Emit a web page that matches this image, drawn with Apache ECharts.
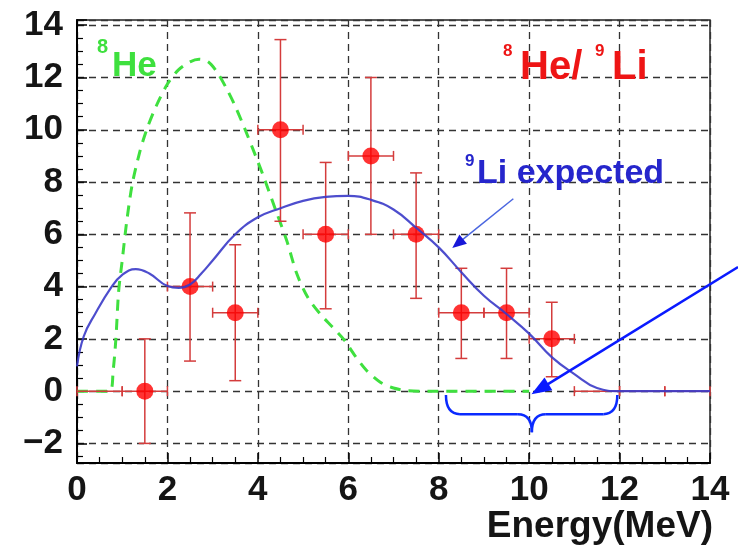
<!DOCTYPE html>
<html>
<head>
<meta charset="utf-8">
<script src="https://cdn.jsdelivr.net/npm/echarts@6/dist/echarts.min.js"></script>
<style>
  html, body { margin: 0; padding: 0; background: #ffffff; }
  #chart { width: 738px; height: 550px; }
</style>
</head>
<body>
<div id="chart"></div>
<script>
// Measured candidates per 1 MeV energy bin
const binCenters = [1.5, 2.5, 3.5, 4.5, 5.5, 6.5, 7.5, 8.5, 9.5, 10.5];
const counts     = [0, 4, 3, 10, 6, 9, 6, 3, 3, 2];
const errLow     = [2.0, 2.85, 2.6, 3.5, 2.85, 3.0, 2.45, 1.75, 1.75, 1.45];
const errHigh    = [2.0, 2.82, 2.6, 3.45, 2.75, 3.0, 2.35, 1.7, 1.7, 1.4];
const binHalfWidth = 0.5;
// Empty bins: only the horizontal bin-width bar at zero is drawn
const emptyBinCenters = [0.5, 11.5, 12.5, 13.5];

// Expected 9Li spectrum shape
const liEnergy = [0, 0.15, 0.4, 0.75, 1.0, 1.3, 1.6, 2.0, 2.25, 2.5, 2.75, 3.0, 3.5, 4.0, 4.5, 5.0, 5.5, 6.0,
                  6.5, 7.0, 7.5, 8.0, 8.5, 9.0, 9.5, 10.0, 10.5, 11.0, 11.5, 12.0, 13.0, 14.0];
const liValue  = [0.95, 2.1, 2.95, 3.95, 4.45, 4.67, 4.5, 4.02, 3.95, 4.08, 4.5, 5.0, 6.0, 6.65, 7.0, 7.28, 7.43, 7.47,
                  7.32, 6.95, 6.25, 5.5, 4.55, 3.65, 2.95, 2.2, 1.3, 0.65, 0.12, 0, 0, 0];

// 8He spectrum shape
const heEnergy = [0, 0.72, 0.8, 0.86, 0.92, 1.0, 1.1, 1.22, 1.38, 1.54, 1.75, 2.0, 2.25, 2.5, 2.7,
                  2.9, 3.1, 3.3, 3.5, 3.72, 3.95, 4.15, 4.4, 4.64, 4.86, 5.1, 5.38, 5.65, 5.9,
                  6.15, 6.4, 6.7, 7.0, 7.3, 7.6, 10.0];
const heValue  = [0, 0, 0.8, 2.0, 3.8, 5.0, 6.5, 7.9, 9.1, 10.0, 10.9, 11.75, 12.3, 12.6, 12.7,
                  12.6, 12.2, 11.6, 10.9, 10.0, 9.0, 8.1, 6.9, 5.75, 4.5, 3.6, 2.95, 2.45, 1.98,
                  1.35, 0.8, 0.35, 0.12, 0.02, 0, 0];

// Axis tick labels
const xTickLabels = [0, 2, 4, 6, 8, 10, 12, 14];
const yTickLabels = [-2, 0, 2, 4, 6, 8, 10, 12, 14];

const FONT = '"Liberation Sans", Arial, sans-serif';
const chart = echarts.init(document.getElementById('chart'), null, { renderer: 'canvas' });

const errRows = binCenters.map((x, i) => [x, counts[i], errLow[i], errHigh[i], binHalfWidth]);
const emptyRows = emptyBinCenters.map(x => [x, 0, 0, 0, binHalfWidth]);

function renderErrorBar(params, api) {
  const x = api.value(0), y = api.value(1);
  const lo = api.value(2), hi = api.value(3), hw = api.value(4);
  const st = { stroke: '#d43c3c', lineWidth: 1.5 };
  const c = api.coord([x, y]);
  const l = api.coord([x - hw, y]);
  const r = api.coord([x + hw, y]);
  const kids = [
    { type: 'line', shape: { x1: l[0], y1: c[1], x2: r[0], y2: c[1] }, style: st },
    { type: 'line', shape: { x1: l[0], y1: c[1] - 5, x2: l[0], y2: c[1] + 5 }, style: st },
    { type: 'line', shape: { x1: r[0], y1: c[1] - 5, x2: r[0], y2: c[1] + 5 }, style: st }
  ];
  if (lo > 0 || hi > 0) {
    const t = api.coord([x, y + hi]);
    const b = api.coord([x, y - lo]);
    kids.push(
      { type: 'line', shape: { x1: c[0], y1: t[1], x2: c[0], y2: b[1] }, style: st },
      { type: 'line', shape: { x1: c[0] - 6, y1: t[1], x2: c[0] + 6, y2: t[1] }, style: st },
      { type: 'line', shape: { x1: c[0] - 6, y1: b[1], x2: c[0] + 6, y2: b[1] }, style: st }
    );
  }
  return { type: 'group', children: kids };
}

const tickLabelStyle = { fontSize: 35, fontWeight: 'bold', fontFamily: FONT, color: '#151515' };

chart.setOption({
  animation: false,
  backgroundColor: '#ffffff',
  grid: { left: 77, right: 28, top: 20, bottom: 87, show: true, borderColor: '#222', borderWidth: 1.5 },
  xAxis: {
    type: 'value', min: 0, max: 14, interval: 2,
    axisLine: { show: true, onZero: false, lineStyle: { color: '#000', width: 2 } },
    axisTick: { show: true, inside: true, length: 10, lineStyle: { color: '#000', width: 1.5 } },
    minorTick: { show: true, splitNumber: 4, length: 6, lineStyle: { color: '#000', width: 1.2 } },
    splitLine: { show: true, lineStyle: { color: '#333', width: 1.3, type: [7, 5] } },
    axisLabel: Object.assign({
      margin: 10,
      formatter: v => (xTickLabels.indexOf(v) >= 0 ? String(v) : '')
    }, tickLabelStyle)
  },
  yAxis: {
    type: 'value', min: -2.75, max: 14.2, splitNumber: 8,
    axisLine: { show: true, onZero: false, lineStyle: { color: '#000', width: 2 } },
    axisTick: { show: true, inside: true, length: 10, lineStyle: { color: '#000', width: 1.5 } },
    minorTick: { show: true, splitNumber: 4, length: 6, lineStyle: { color: '#000', width: 1.2 } },
    splitLine: { show: true, lineStyle: { color: '#333', width: 1.3, type: [7, 5] } },
    axisLabel: Object.assign({
      margin: 14, showMinLabel: false, showMaxLabel: false,
      formatter: v => {
        const k = yTickLabels.indexOf(Math.round(v * 1000) / 1000);
        if (k < 0) return '';
        const n = yTickLabels[k];
        return n < 0 ? '\u2212' + Math.abs(n) : String(n);
      }
    }, tickLabelStyle)
  },
  series: [
    {
      name: '8He', type: 'line', showSymbol: false, smooth: 0.3, z: 3,
      data: heEnergy.map((x, i) => [x, heValue[i]]),
      lineStyle: { color: '#3fe03f', width: 3, type: [11, 8] }
    },
    {
      name: 'empty', type: 'custom', renderItem: renderErrorBar, z: 4,
      data: emptyRows, encode: { x: 0, y: 1 }
    },
    {
      name: 'errors', type: 'custom', renderItem: renderErrorBar, z: 4,
      data: errRows, encode: { x: 0, y: 1 }
    },
    {
      name: 'data', type: 'scatter', symbol: 'circle', symbolSize: 17, z: 5,
      data: binCenters.map((x, i) => [x, counts[i]]),
      itemStyle: { color: '#ff0000' }
    },
    {
      name: '9Li', type: 'line', showSymbol: false, smooth: 0.45, z: 6,
      data: liEnergy.map((x, i) => [x, liValue[i]]),
      lineStyle: { color: '#3a3ac8', width: 2.2, opacity: 0.9 }
    }
  ]
});

// Annotation anchors (energy, counts)
const labelArrow = { from: [9.65, 7.36], to: [8.3, 5.48] };
const bigArrow = { from: [14.62, 4.75], to: [10.05, -0.12] };
const brace = { left: 8.16, right: 11.95, center: 10.06, top: -0.15, mid: -0.88, tip: -1.57 };

const px = p => chart.convertToPixel({ gridIndex: 0 }, p);

function arrow(fromData, toData, lineColor, headColor, lw, headLen, headW) {
  const a = px(fromData), b = px(toData);
  const dx = b[0] - a[0], dy = b[1] - a[1];
  const len = Math.hypot(dx, dy);
  const ux = dx / len, uy = dy / len;
  const bx = b[0] - ux * headLen, by = b[1] - uy * headLen;
  const nx = -uy * headW / 2, ny = ux * headW / 2;
  return [
    { type: 'line', z: 100, shape: { x1: a[0], y1: a[1], x2: bx + ux * 2, y2: by + uy * 2 },
      style: { stroke: lineColor, lineWidth: lw } },
    { type: 'polygon', z: 100, shape: { points: [[b[0], b[1]], [bx + nx, by + ny], [bx - nx, by - ny]] },
      style: { fill: headColor } }
  ];
}

// Curly brace under the zero line, built from quadratic curves and straight runs
function braceParts() {
  const L = px([brace.left, brace.top]), R = px([brace.right, brace.top]);
  const M = px([brace.center, brace.mid]), T = px([brace.center, brace.tip]);
  const r = 14, ym = M[1];
  const st = { stroke: '#0a2aff', lineWidth: 2.5, fill: null };
  const curve = (x1, y1, cx, cy, x2, y2) => ({
    type: 'bezierCurve', z: 100, shape: { x1: x1, y1: y1, cpx1: cx, cpy1: cy, x2: x2, y2: y2 }, style: st
  });
  const seg = (x1, x2) => ({ type: 'line', z: 100, shape: { x1: x1, y1: ym, x2: x2, y2: ym }, style: st });
  return [
    curve(L[0], L[1], L[0], ym, L[0] + r, ym),
    seg(L[0] + r, M[0] - r),
    curve(M[0] - r, ym, M[0], ym, T[0], T[1]),
    curve(M[0] + r, ym, M[0], ym, T[0], T[1]),
    seg(M[0] + r, R[0] - r),
    curve(R[0] - r, ym, R[0], ym, R[0], R[1])
  ];
}

function txt(text, x, y, size, color, align) {
  return {
    type: 'text', z: 100,
    style: {
      text: text, x: x, y: y, fill: color, align: align || 'left', verticalAlign: 'middle',
      font: 'bold ' + size + 'px ' + FONT
    }
  };
}

const graphics = []
  .concat(arrow(labelArrow.from, labelArrow.to, '#4a66e0', '#1818d8', 1.5, 14, 12))
  .concat(arrow(bigArrow.from, bigArrow.to, '#0a1aff', '#0a1aff', 2.5, 20, 15))
  .concat(braceParts())
  .concat([
    txt('8', 97, 47.5, 20, '#3ee03e'),
    txt('He', 112, 66.5, 35, '#3ee03e'),
    txt('8', 503, 51, 17, '#ee1515'),
    txt('He/', 520, 68, 40, '#ee1515'),
    txt('9', 595, 51, 17, '#ee1515'),
    txt('Li', 612, 68, 40, '#ee1515'),
    txt('9', 465, 161, 17, '#2626cc'),
    txt('Li expected', 477, 173.5, 34, '#2626cc'),
    txt('Energy(MeV)', 713, 526.5, 37, '#151515', 'right')
  ]);

chart.setOption({ graphic: graphics });
</script>
</body>
</html>
